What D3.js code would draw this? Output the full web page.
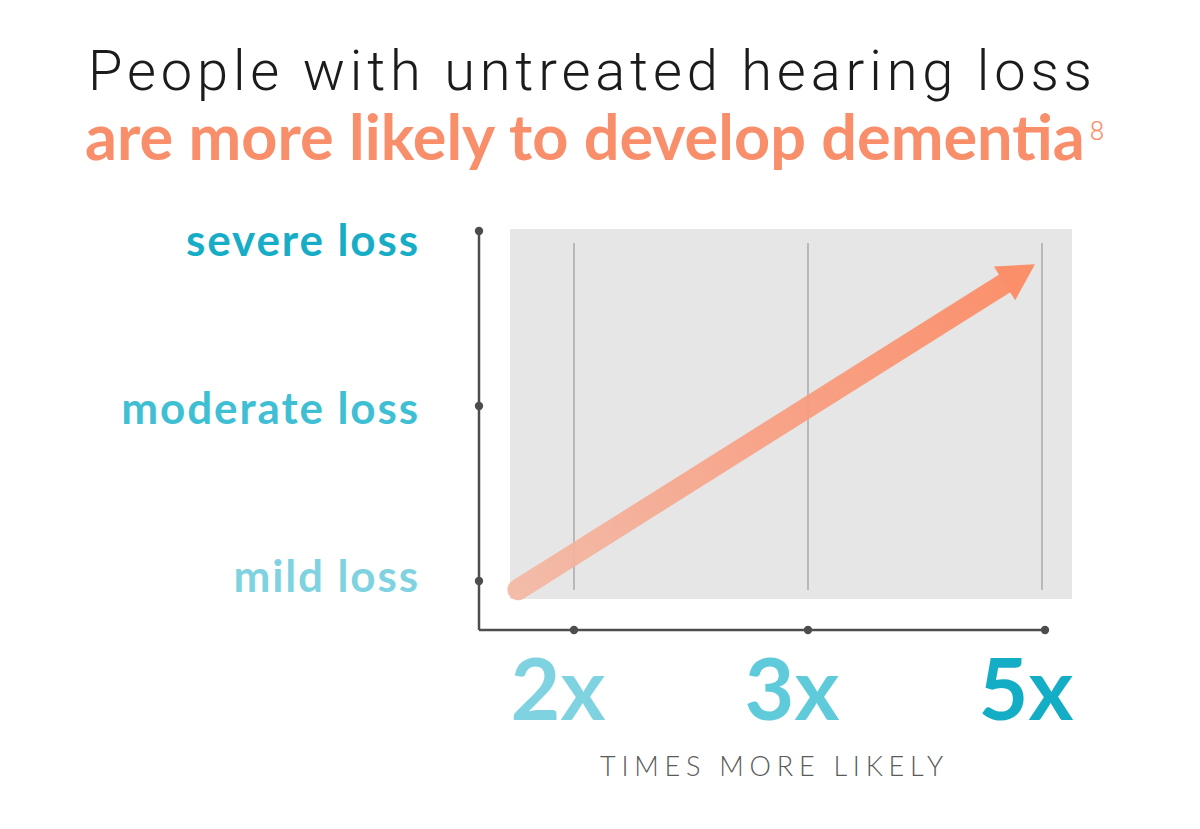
<!DOCTYPE html>
<html>
<head>
<meta charset="utf-8">
<script src="https://cdn.jsdelivr.net/npm/d3@7"></script>
<style>
  html, body { margin: 0; padding: 0; background: #ffffff; }
  svg { display: block; }
</style>
</head>
<body>
<svg id="chart" width="1200" height="829"></svg>
<script>
// ---------------- DATA ----------------
const titleLine1 = "People with untreated hearing loss";
const titleLine2 = "are more likely to develop dementia";
const titleFootnote = "8";
const severityLevels = ["mild loss", "moderate loss", "severe loss"];
const severityColors = ["#7fd3e1", "#3fbfd4", "#17adc7"];
const riskMultipliers = ["2x", "3x", "5x"];
const riskColors = ["#7fd3e1", "#5ecada", "#13adc6"];
const xAxisTitle = "TIMES MORE LIKELY";
// arrow endpoints expressed in category-index units (risk index, severity index)
const arrowStart = [-0.24, -0.05];
const arrowEnd = [1.97, 1.81];

// ---------------- LAYOUT ----------------
const svg = d3.select("#chart");

const x = d3.scaleLinear().domain([0, riskMultipliers.length - 1]).range([574, 1042]);
const y = d3.scaleLinear().domain([0, severityLevels.length - 1]).range([581, 231]);
const labelY = d3.scaleLinear().domain([0, severityLevels.length - 1]).range([592, 256]);

const axisX0 = 479, axisY0 = 630;

function fitSpacing(sel, target) {
  const node = sel.node();
  const txt = sel.text();
  sel.attr("letter-spacing", 0);
  const w = node.getComputedTextLength();
  const ls = (target - w) / Math.max(1, txt.length - 1);
  sel.attr("letter-spacing", ls);
}
function fitWidth(sel, target) {
  const node = sel.node();
  const fs = parseFloat(sel.attr("font-size"));
  const w = node.getComputedTextLength();
  sel.attr("font-size", fs * target / w);
}

// ---------------- TITLE ----------------
const t1 = svg.append("text")
  .attr("x", 88).attr("y", 90)
  .attr("font-family", "Roboto, 'DejaVu Sans', sans-serif")
  .attr("font-weight", 300)
  .attr("font-size", 56)
  .attr("fill", "#1b1b1b")
  .text(titleLine1);
fitSpacing(t1, 1004);

const t2 = svg.append("text")
  .attr("x", 85).attr("y", 160)
  .attr("font-family", "Lato, 'Open Sans', sans-serif")
  .attr("font-weight", 700)
  .attr("font-size", 56)
  .attr("fill", "#f98e6b")
  .text(titleLine2);
fitWidth(t2, 1000);
const t2w = t2.node().getComputedTextLength();
svg.append("text")
  .attr("x", 85 + t2w + 5).attr("y", 140)
  .attr("font-family", "Roboto, sans-serif")
  .attr("font-weight", 300)
  .attr("font-size", 26)
  .attr("fill", "#f98e6b")
  .text(titleFootnote);

// ---------------- PLOT BACKGROUND ----------------
svg.append("rect")
  .attr("x", 510).attr("y", 229)
  .attr("width", 1072 - 510).attr("height", 599 - 229)
  .attr("fill", "#e6e6e6");

// vertical gridlines
svg.append("g").selectAll("line")
  .data(riskMultipliers)
  .join("line")
  .attr("x1", (d, i) => x(i)).attr("x2", (d, i) => x(i))
  .attr("y1", 243).attr("y2", 590)
  .attr("stroke", "#9a9a9a").attr("stroke-width", 1.2);

// ---------------- ARROW ----------------
const p0 = [x(arrowStart[0]), y(arrowStart[1])];
const p1 = [x(arrowEnd[0]), y(arrowEnd[1])];
const dx = p1[0] - p0[0], dy = p1[1] - p0[1];
const len = Math.hypot(dx, dy);
const ux = dx / len, uy = dy / len;
const nx = -uy, ny = ux;
const headLen = 36, headHalf = 20, bodyW = 21;
const base = [p1[0] - ux * headLen, p1[1] - uy * headLen];

const defs = svg.append("defs");
const grad = defs.append("linearGradient")
  .attr("id", "arrowGrad")
  .attr("gradientUnits", "userSpaceOnUse")
  .attr("x1", p0[0]).attr("y1", p0[1])
  .attr("x2", p1[0]).attr("y2", p1[1]);
grad.append("stop").attr("offset", "0%").attr("stop-color", "#f4b9a4");
grad.append("stop").attr("offset", "45%").attr("stop-color", "#f9a084");
grad.append("stop").attr("offset", "100%").attr("stop-color", "#fd8860");

const ag = svg.append("g").attr("opacity", 0.92);
ag.append("line")
  .attr("x1", p0[0]).attr("y1", p0[1])
  .attr("x2", base[0] + ux * 4).attr("y2", base[1] + uy * 4)
  .attr("stroke", "url(#arrowGrad)")
  .attr("stroke-width", bodyW)
  .attr("stroke-linecap", "round");
ag.append("path")
  .attr("d", d3.line()([
    p1,
    [base[0] + nx * headHalf, base[1] + ny * headHalf],
    [base[0] - nx * headHalf, base[1] - ny * headHalf]
  ]) + "Z")
  .attr("fill", "#fd8860");

// ---------------- AXES ----------------
const axisColor = "#4d4d4d";
svg.append("line")
  .attr("x1", axisX0).attr("x2", axisX0)
  .attr("y1", y(severityLevels.length - 1)).attr("y2", axisY0)
  .attr("stroke", axisColor).attr("stroke-width", 2.5);
svg.append("line")
  .attr("x1", axisX0).attr("x2", x(riskMultipliers.length - 1) + 3)
  .attr("y1", axisY0).attr("y2", axisY0)
  .attr("stroke", axisColor).attr("stroke-width", 2.5);

svg.append("g").selectAll("circle")
  .data(severityLevels)
  .join("circle")
  .attr("cx", axisX0).attr("cy", (d, i) => y(i))
  .attr("r", 4.2).attr("fill", axisColor);

svg.append("g").selectAll("circle")
  .data(riskMultipliers)
  .join("circle")
  .attr("cx", (d, i) => x(i) + (i === riskMultipliers.length - 1 ? 3 : 0)).attr("cy", axisY0)
  .attr("r", 4.2).attr("fill", axisColor);

// y labels
svg.append("g").selectAll("text")
  .data(severityLevels)
  .join("text")
  .attr("x", 420).attr("y", (d, i) => labelY(i))
  .attr("text-anchor", "end")
  .attr("font-family", "Lato, 'Open Sans', sans-serif")
  .attr("font-weight", 700)
  .attr("font-size", 44)
  .attr("letter-spacing", 1.9)
  .attr("fill", (d, i) => severityColors[i])
  .text(d => d);

// x labels
svg.append("g").selectAll("text")
  .data(riskMultipliers)
  .join("text")
  .attr("x", (d, i) => x(i) - 16).attr("y", 720)
  .attr("text-anchor", "middle")
  .attr("font-family", "Lato, 'Open Sans', sans-serif")
  .attr("font-weight", 700)
  .attr("font-size", 86)
  .attr("fill", (d, i) => riskColors[i])
  .text(d => d);

const xt = svg.append("text")
  .attr("x", 600).attr("y", 776)
  .attr("font-family", "Lato, 'Open Sans', sans-serif")
  .attr("font-weight", 300)
  .attr("font-size", 27)
  .attr("fill", "#5a5a5a")
  .text(xAxisTitle);
fitSpacing(xt, 343);
</script>
</body>
</html>
